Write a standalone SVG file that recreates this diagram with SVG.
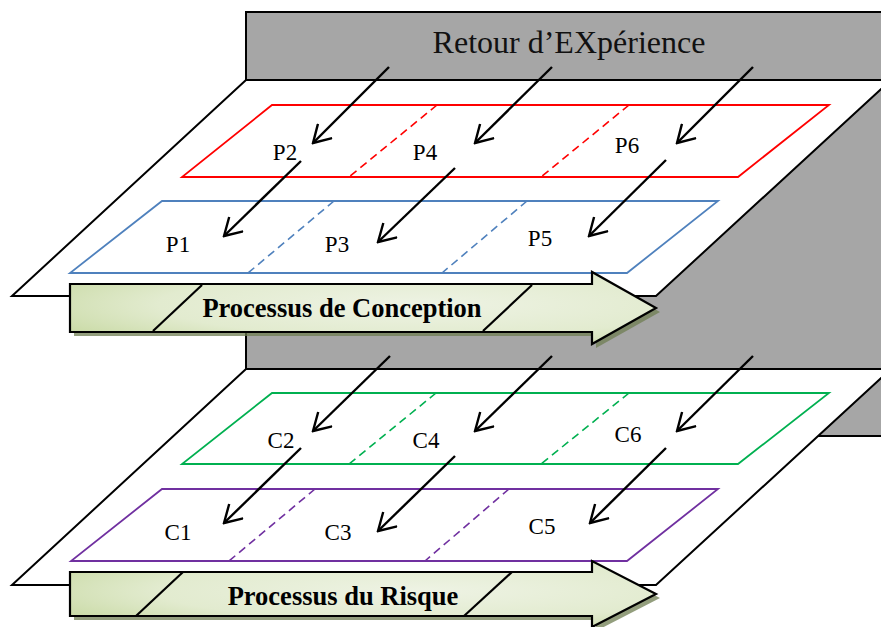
<svg xmlns="http://www.w3.org/2000/svg" width="881" height="627" viewBox="0 0 881 627">
  <defs>
    <style>
      .plane { fill: #ffffff; stroke: #000000; stroke-width: 2; stroke-linejoin: miter; }
      .zone { fill: none; stroke-width: 1.8; }
      .div { fill: none; stroke-width: 1.6; stroke-dasharray: 8 5; }
      .red { stroke: #ff0000; }
      .blue { stroke: #4f81bd; }
      .green { stroke: #00b050; }
      .purple { stroke: #7030a0; }
      .flow { fill: none; stroke: #000000; stroke-width: 2.4; marker-end: url(#open); }
      .lbl { font-family: "Liberation Serif", "Times New Roman", serif; font-size: 23px; fill: #000000; text-anchor: middle; }
      .big { fill: url(#green); stroke: #000000; stroke-width: 2.2; stroke-linejoin: miter; }
      .shadow { fill: #6f7d52; opacity: 0.75; }
      .cut { stroke: #000000; stroke-width: 2.2; }
      .ptitle { font-family: "Liberation Serif", "Times New Roman", serif; font-size: 26.5px; font-weight: bold; fill: #000000; text-anchor: middle; }
    </style>
    <radialGradient id="green" cx="0.6" cy="0.45" r="0.75">
      <stop offset="0" stop-color="#eef3e4"/>
      <stop offset="0.6" stop-color="#e2ebcf"/>
      <stop offset="1" stop-color="#c6d8a0"/>
    </radialGradient>
    <marker id="open" viewBox="0 0 22 22" refX="20" refY="11" markerWidth="22" markerHeight="22" markerUnits="userSpaceOnUse" orient="auto">
      <path d="M3,1 L20,11 L3,21" fill="none" stroke="#000000" stroke-width="2.4"/>
    </marker>
  </defs>

  <!-- back block -->
  <g id="retex">
    <rect x="246" y="12" width="700" height="424" fill="#a6a6a6" stroke="#000000" stroke-width="2"/>
    <text x="569" y="53" font-family="Liberation Serif, Times New Roman, serif" font-size="32" text-anchor="middle" fill="#111111">Retour d’EXpérience</text>
  </g>

  <!-- design layer -->
  <g id="plane-conception">
    <polygon class="plane" points="246,80 891,80 656,296 12,296"/>
  </g>
  <g id="zone-p-top">
    <polygon class="zone red" points="272,105 829,105 738,177 182,177"/>
    <line class="div red" x1="437" y1="105" x2="349" y2="177"/>
    <line class="div red" x1="629" y1="105" x2="541" y2="177"/>
  </g>
  <g id="zone-p-bottom">
    <polygon class="zone blue" points="162,201 718,201 627,273 70,273"/>
    <line class="div blue" x1="334" y1="201" x2="248" y2="273"/>
    <line class="div blue" x1="527" y1="201" x2="442" y2="273"/>
  </g>
  <g id="P2"><text class="lbl" x="285" y="160">P2</text></g>
  <g id="P4"><text class="lbl" x="425" y="160">P4</text></g>
  <g id="P6"><text class="lbl" x="627" y="153">P6</text></g>
  <g id="P1"><text class="lbl" x="178" y="252">P1</text></g>
  <g id="P3"><text class="lbl" x="337" y="252">P3</text></g>
  <g id="P5"><text class="lbl" x="540" y="246">P5</text></g>

  <g id="arrow-conception">
    <path class="shadow" d="M74,288 H596 V276 L660,312 L596,348 V336 H74 Z"/>
    <path class="big" d="M70,284 H592 V272 L656,308 L592,344 V332 H70 Z"/>
    <line class="cut" x1="202" y1="285" x2="153" y2="331"/>
    <line class="cut" x1="532" y1="285" x2="483" y2="331"/>
    <text class="ptitle" x="342" y="317">Processus de Conception</text>
  </g>

  <!-- risk layer -->
  <g id="plane-risque">
    <polygon class="plane" points="246,369 891,369 656,585 12,585"/>
  </g>
  <g id="zone-c-top">
    <polygon class="zone green" points="272,393 829,393 738,464 182,464"/>
    <line class="div green" x1="436" y1="393" x2="349" y2="464"/>
    <line class="div green" x1="629" y1="393" x2="541" y2="464"/>
  </g>
  <g id="zone-c-bottom">
    <polygon class="zone purple" points="162,489 718,489 627,561 71,561"/>
    <line class="div purple" x1="315" y1="489" x2="229" y2="561"/>
    <line class="div purple" x1="509" y1="489" x2="425" y2="561"/>
  </g>
  <g id="C2"><text class="lbl" x="281" y="448">C2</text></g>
  <g id="C4"><text class="lbl" x="426" y="448">C4</text></g>
  <g id="C6"><text class="lbl" x="628" y="442">C6</text></g>
  <g id="C1"><text class="lbl" x="178" y="540">C1</text></g>
  <g id="C3"><text class="lbl" x="338" y="540">C3</text></g>
  <g id="C5"><text class="lbl" x="542" y="534">C5</text></g>

  <g id="arrow-risque">
    <path class="shadow" d="M74,576 H596 V565 L660,598 L596,631 V620 H74 Z"/>
    <path class="big" d="M70,572 H592 V561 L656,594 L592,627 V616 H70 Z"/>
    <line class="cut" x1="183" y1="572" x2="136" y2="616"/>
    <line class="cut" x1="512" y1="572" x2="464" y2="616"/>
    <text class="ptitle" x="343" y="605">Processus du Risque</text>
  </g>

  <!-- feedback flows -->
  <g id="connectors">
    <line class="flow" x1="389" y1="67" x2="313" y2="143"/>
    <line class="flow" x1="552" y1="67" x2="475" y2="143"/>
    <line class="flow" x1="753" y1="67" x2="677" y2="143"/>
    <line class="flow" x1="301" y1="161" x2="224" y2="236"/>
    <line class="flow" x1="455" y1="168" x2="378" y2="242"/>
    <line class="flow" x1="666" y1="160" x2="589" y2="236"/>
    <line class="flow" x1="390" y1="356" x2="313" y2="431"/>
    <line class="flow" x1="552" y1="356" x2="475" y2="431"/>
    <line class="flow" x1="753" y1="356" x2="677" y2="431"/>
    <line class="flow" x1="301" y1="448" x2="224" y2="523"/>
    <line class="flow" x1="455" y1="456" x2="378" y2="531"/>
    <line class="flow" x1="666" y1="448" x2="590" y2="523"/>
  </g>
</svg>
